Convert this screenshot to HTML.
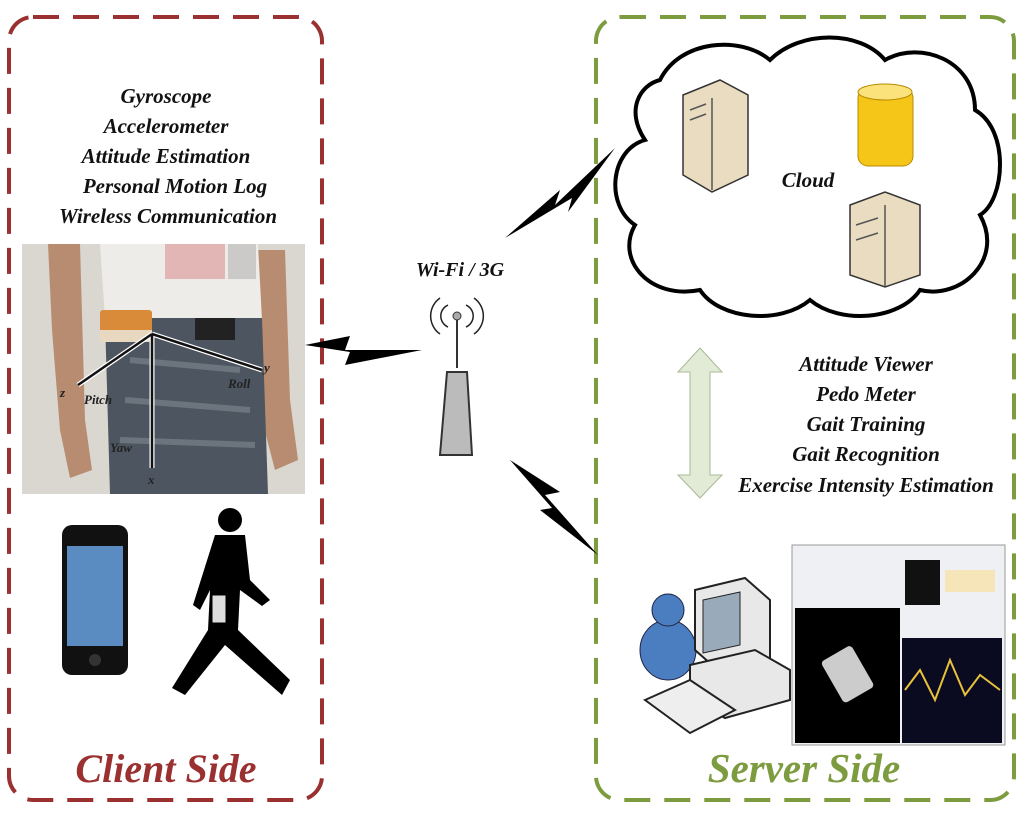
<!DOCTYPE html>
<html><head><meta charset="utf-8"><style>
html,body{margin:0;padding:0;background:#fff;}
svg text{font-family:"Liberation Serif",serif;font-style:italic;font-weight:bold;}
</style></head><body>
<svg width="1024" height="812" viewBox="0 0 1024 812" xmlns="http://www.w3.org/2000/svg">
<rect x="9" y="17" width="313" height="783" rx="24" fill="none" stroke="#9b3030" stroke-width="4" stroke-dasharray="26,14"/>
<rect x="596" y="17" width="418" height="783" rx="24" fill="none" stroke="#7d9b3f" stroke-width="4" stroke-dasharray="26,14"/>
<g font-size="21" text-anchor="middle" fill="#111">
<text x="166" y="103">Gyroscope</text>
<text x="166" y="133">Accelerometer</text>
<text x="166" y="163">Attitude Estimation</text>
<text x="175" y="193">Personal Motion Log</text>
<text x="168" y="223">Wireless Communication</text>
</g>
<rect x="22" y="244" width="283" height="250" fill="#d9d7d0"/>
<path d="M48 244 L80 244 L85 420 L92 470 L70 478 L60 430 L52 330 Z" fill="#b88c70"/>
<path d="M255 250 L285 250 L290 400 L298 460 L275 470 L262 420 Z" fill="#b88c70"/>
<path d="M100 244 L258 244 L262 320 L105 318 Z" fill="#eeece8"/>
<rect x="165" y="244" width="60" height="35" fill="#c66" opacity="0.4"/>
<rect x="228" y="244" width="28" height="35" fill="#999" opacity="0.4"/>
<path d="M105 318 L262 318 L268 494 L110 494 Z" fill="#4d5560"/>
<path d="M130 360 L240 370 M125 400 L250 410 M120 440 L255 445" stroke="#8b939c" stroke-width="6" opacity="0.5"/>
<rect x="100" y="310" width="52" height="32" rx="3" fill="#d98b3a"/>
<rect x="100" y="330" width="52" height="12" fill="#e8d8c0"/>
<rect x="195" y="318" width="40" height="22" fill="#222"/>
<g stroke="#fff" stroke-width="5" fill="none">
<line x1="152" y1="334" x2="78" y2="385"/><line x1="152" y1="334" x2="262" y2="370"/><line x1="152" y1="334" x2="152" y2="468"/>
</g>
<g stroke="#111" stroke-width="2.5" fill="none">
<line x1="152" y1="334" x2="78" y2="385"/><line x1="152" y1="334" x2="262" y2="370"/><line x1="152" y1="334" x2="152" y2="468"/>
</g>
<g font-size="13" fill="#222" font-weight="normal"><text x="60" y="397">z</text><text x="84" y="404" font-style="normal">Pitch</text><text x="228" y="388" font-style="normal">Roll</text><text x="264" y="372">y</text><text x="110" y="452" font-style="normal">Yaw</text><text x="148" y="484">x</text></g>
<rect x="62" y="525" width="66" height="150" rx="10" fill="#111"/>
<rect x="67" y="546" width="56" height="100" fill="#5a8cc2"/>
<circle cx="95" cy="660" r="6" fill="#333"/>
<g fill="#000">
<circle cx="230" cy="520" r="12"/>
<path d="M215 535 L245 535 L250 580 L270 600 L262 606 L240 590 L238 630 L290 680 L282 695 L225 645 L185 695 L172 688 L208 630 L210 590 L200 610 L193 605 Z"/>
</g>
<rect x="212" y="595" width="14" height="28" fill="#ddd" stroke="#000"/>
<text x="166" y="782" font-size="40" fill="#9b3030" text-anchor="middle">Client Side</text>
<text x="460" y="276" font-size="20" fill="#111" text-anchor="middle">Wi-Fi / 3G</text>
<g fill="none" stroke="#222" stroke-width="1.5">
<path d="M448 305 a12 12 0 0 0 0 22"/><path d="M466 305 a12 12 0 0 1 0 22"/>
<path d="M440 298 a22 22 0 0 0 0 36"/><path d="M474 298 a22 22 0 0 1 0 36"/>
</g>
<circle cx="457" cy="316" r="4" fill="#aaa" stroke="#333"/>
<line x1="457" y1="320" x2="457" y2="368" stroke="#333" stroke-width="2"/>
<path d="M447 372 L467 372 L472 455 L440 455 Z" fill="#bbb" stroke="#333" stroke-width="2"/>
<path d="M305 345 L350 336 L345 350 L422 350 L345 365 L350 352 Z" fill="#000"/>
<path d="M505 238 L560 190 L555 205 L615 148 L568 212 L572 198 Z" fill="#000"/>
<path d="M510 460 L560 492 L545 495 L598 555 L540 510 L552 508 Z" fill="#000"/>
<path d="M660 80 C680 40 740 35 770 60 C800 30 860 30 885 60 C920 40 975 60 975 110 C1010 130 1005 200 980 215 C1005 260 960 300 920 290 C900 320 840 325 810 300 C780 325 720 320 700 290 C650 300 615 260 635 225 C605 205 610 150 645 140 C625 110 640 85 660 80 Z" fill="#fff" stroke="#000" stroke-width="4"/>
<path d="M683 95 L720 80 L748 95 L748 175 L712 192 L683 175 Z" fill="#e9dcc0" stroke="#333" stroke-width="1.5"/>
<path d="M712 98 L712 190 M690 110 L706 104 M690 120 L706 114" stroke="#555" stroke-width="1.5"/>
<rect x="858" y="88" width="55" height="78" rx="10" fill="#f5c518" stroke="#b88a00"/>
<ellipse cx="885" cy="92" rx="27" ry="8" fill="#fbe27a" stroke="#b88a00"/>
<path d="M850 205 L885 192 L920 205 L920 275 L885 287 L850 275 Z" fill="#e9dcc0" stroke="#333" stroke-width="1.5"/>
<path d="M885 205 L885 286 M856 225 L878 218 M856 240 L878 233" stroke="#555" stroke-width="1.5"/>
<text x="808" y="187" font-size="21" fill="#111" text-anchor="middle">Cloud</text>
<path d="M700 348 L722 372 L710 372 L710 475 L722 475 L700 498 L678 475 L690 475 L690 372 L678 372 Z" fill="#e1ebd5" stroke="#a9b897"/>
<g font-size="21" text-anchor="middle" fill="#111">
<text x="866" y="371">Attitude Viewer</text>
<text x="866" y="401">Pedo Meter</text>
<text x="866" y="431">Gait Training</text>
<text x="866" y="461">Gait Recognition</text>
<text x="866" y="492">Exercise Intensity Estimation</text>
</g>
<rect x="792" y="545" width="213" height="200" fill="#eef0f4" stroke="#999"/>
<rect x="795" y="608" width="105" height="135" fill="#000"/>
<rect x="902" y="638" width="100" height="105" fill="#0a0a20"/>
<path d="M905 690 L920 670 L935 700 L950 660 L965 695 L980 675 L1000 690" stroke="#e8c23a" fill="none" stroke-width="2"/>
<rect x="905" y="560" width="35" height="45" fill="#111"/>
<rect x="945" y="570" width="50" height="22" fill="#f5e5b8"/>
<rect x="830" y="650" width="35" height="48" rx="4" fill="#ccc" transform="rotate(-30 848 674)"/>
<ellipse cx="668" cy="650" rx="28" ry="30" fill="#4a7ec0" stroke="#224"/>
<circle cx="668" cy="610" r="16" fill="#4a7ec0" stroke="#224"/>
<path d="M695 590 L745 578 L770 600 L770 660 L720 672 L695 650 Z" fill="#e8e8e8" stroke="#222" stroke-width="2"/>
<path d="M703 600 L740 592 L740 645 L703 653 Z" fill="#9ab" stroke="#222"/>
<path d="M690 665 L755 650 L790 670 L790 700 L725 718 L690 698 Z" fill="#e8e8e8" stroke="#222" stroke-width="2"/>
<path d="M645 700 L690 680 L735 710 L690 733 Z" fill="#eee" stroke="#222" stroke-width="2"/>
<text x="804" y="782" font-size="41" fill="#7d9b3f" text-anchor="middle">Server Side</text>
</svg>
</body></html>
